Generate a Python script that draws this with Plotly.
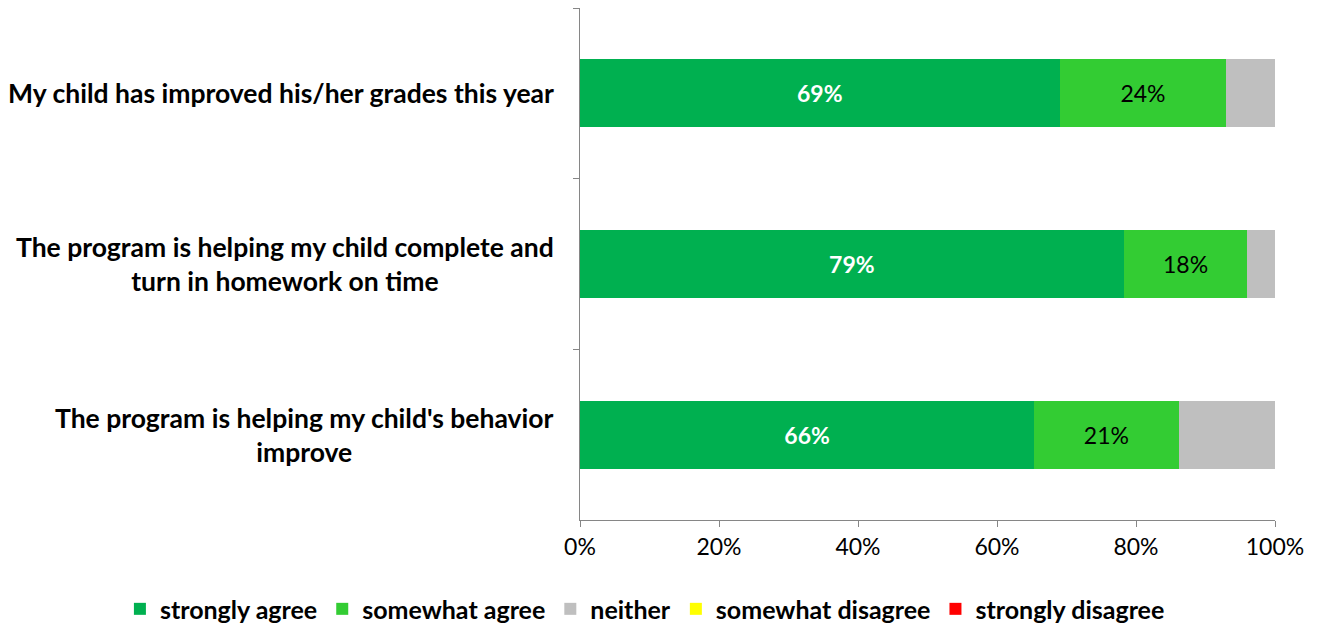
import plotly.graph_objects as go

categories = [
    "My child has improved his/her grades this year",
    "The program is helping my child complete and<br>turn in homework on time",
    "The program is helping my child's behavior<br>improve",
]
series_names = ["strongly agree", "somewhat agree", "neither", "somewhat disagree", "strongly disagree"]
strongly_agree = [69, 79, 66]
somewhat_agree = [24, 18, 21]
neither = [7, 4, 14]
somewhat_disagree = [0, 0, 0]
strongly_disagree = [0, 0, 0]
x_ticks = [0, 20, 40, 60, 80, 100]
x_tick_labels = ["0%", "20%", "40%", "60%", "80%", "100%"]

colors = ["#00B050", "#33CC33", "#BFBFBF", "#FFFF00", "#FF0000"]
FONT = "Lato"

values = [strongly_agree, somewhat_agree, neither, somewhat_disagree, strongly_disagree]
fig = go.Figure()
for i, (name, vals, col) in enumerate(zip(series_names, values, colors)):
    show_text = i < 2
    fig.add_trace(go.Bar(
        y=categories, x=vals, name=name, orientation="h",
        marker=dict(color=col, line=dict(width=0)),
        text=[f"{v}%" for v in vals] if show_text else None,
        textposition="inside" if show_text else "none",
        insidetextanchor="middle",
        textangle=0,
        textfont=dict(family=FONT, size=23,
                      color="white" if i == 0 else "black",
                      weight="bold" if i == 0 else "normal"),
        width=0.4,
    ))

for cat in categories:
    fig.add_annotation(
        x=0, xref="paper", xanchor="right", xshift=-24,
        y=cat, yref="y", yanchor="middle",
        text=f"<b>{cat}</b>", showarrow=False, align="center",
        font=dict(family=FONT, size=26.5, color="black"),
    )

fig.update_layout(
    barmode="stack", barnorm="percent",
    width=1324, height=625,
    margin=dict(l=572, r=57, t=0, b=113, autoexpand=False),
    plot_bgcolor="white", paper_bgcolor="white",
    font=dict(family=FONT, color="black"),
    legend=dict(
        orientation="h",
        x=-0.662, xanchor="left", y=-0.174, yanchor="middle",
        font=dict(family=FONT, size=25, color="black", weight="bold"),
        traceorder="normal", itemwidth=30,
    ),
    xaxis=dict(
        range=[0, 100], tickvals=x_ticks, ticktext=x_tick_labels,
        showgrid=False, zeroline=False, showline=True, linecolor="#868686", linewidth=1,
        ticks="outside", ticklen=6, tickcolor="#868686",
        tickfont=dict(family=FONT, size=23, color="black"),
    ),
    yaxis=dict(
        autorange="reversed", showticklabels=False, showgrid=False, zeroline=False,
        showline=True, linecolor="#868686", linewidth=1,
        ticks="outside", ticklen=6, tickcolor="#868686", tickson="boundaries",
    ),
)

fig.write_html("out.html")
